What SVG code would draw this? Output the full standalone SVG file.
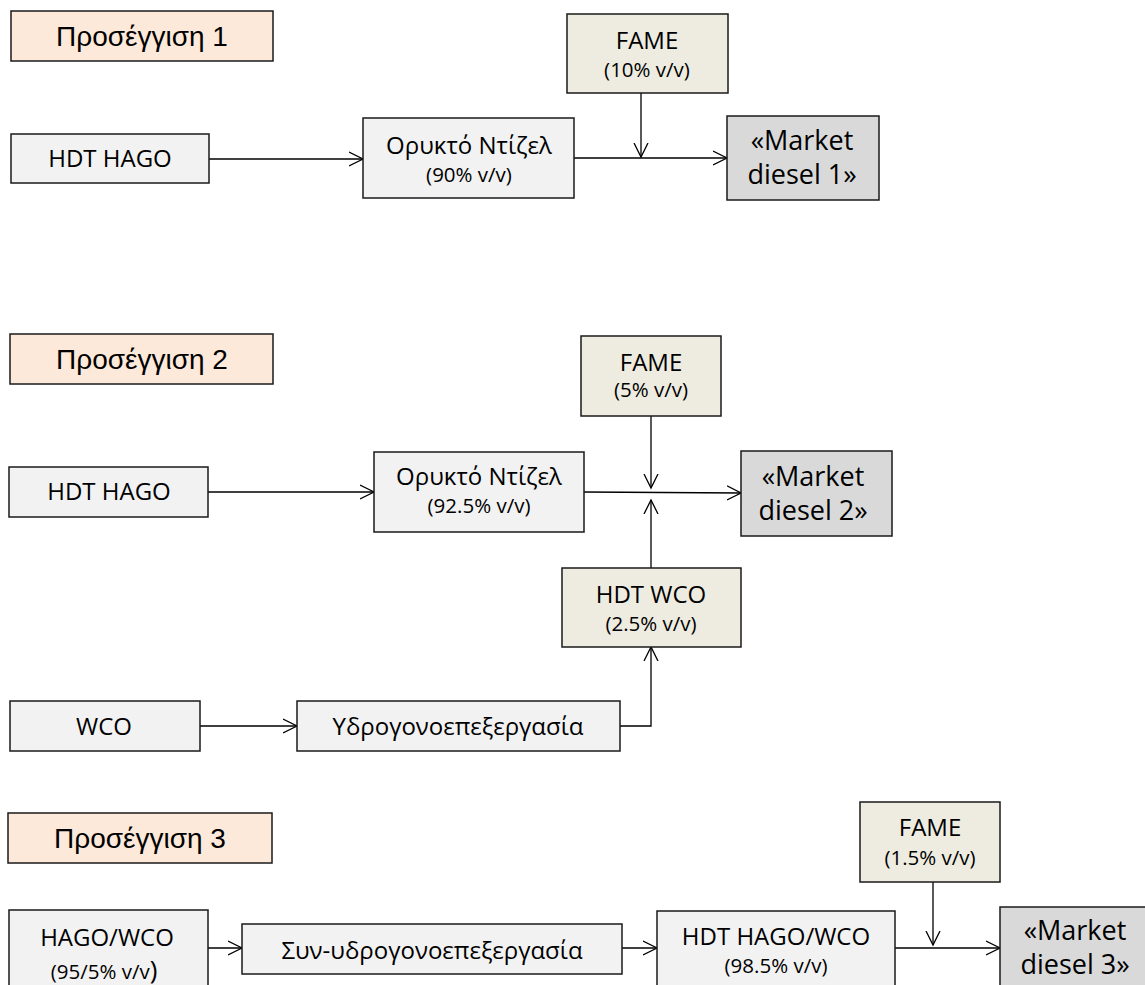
<svg xmlns="http://www.w3.org/2000/svg" width="1145" height="985" viewBox="0 0 1145 985">
<style>
  .box { stroke: #1a1a1a; stroke-width: 1.5; }
  .hdr { fill: #FDE9D9; }
  .lt { fill: #F2F2F2; }
  .be { fill: #EEECE1; }
  .mk { fill: #D9D9D9; }
  .ht { font-family: "Liberation Sans", Arial, sans-serif; font-size: 28px; fill: #000; text-anchor: middle; }
  .t { font-family: "Open Sans", "Noto Sans", sans-serif; font-size: 24px; fill: #000; text-anchor: middle; }
  .s { font-family: "Open Sans", "Noto Sans", sans-serif; font-size: 20.5px; fill: #000; text-anchor: middle; }
  .m { font-family: "Open Sans", "Noto Sans", sans-serif; font-size: 27px; fill: #000; text-anchor: middle; }
  .c { fill: none; stroke: #000; stroke-width: 1.3; }
</style>
<defs>
  <marker id="arr" markerUnits="userSpaceOnUse" markerWidth="16" markerHeight="16" refX="14" refY="7" orient="auto" viewBox="0 0 16 14">
    <path d="M0,0 L14,7 L0,14" fill="none" stroke="#000" stroke-width="1.3"/>
  </marker>
</defs>
<rect width="1145" height="985" fill="#fff"/>

<g id="connectors">
  <line class="c" x1="209" y1="159" x2="363" y2="159" marker-end="url(#arr)"/>
  <line class="c" x1="574" y1="158" x2="727" y2="158" marker-end="url(#arr)"/>
  <line class="c" x1="641" y1="93" x2="641" y2="157" marker-end="url(#arr)"/>

  <line class="c" x1="208" y1="492" x2="374" y2="492" marker-end="url(#arr)"/>
  <line class="c" x1="584" y1="492" x2="741" y2="493" marker-end="url(#arr)"/>
  <line class="c" x1="651" y1="416" x2="651" y2="488" marker-end="url(#arr)"/>
  <line class="c" x1="651" y1="568" x2="651" y2="500" marker-end="url(#arr)"/>
  <line class="c" x1="200" y1="726" x2="297" y2="726" marker-end="url(#arr)"/>
  <path class="c" d="M620,726 H651 V647" marker-end="url(#arr)"/>

  <line class="c" x1="208" y1="948" x2="242" y2="948" marker-end="url(#arr)"/>
  <line class="c" x1="622" y1="948" x2="657" y2="948" marker-end="url(#arr)"/>
  <line class="c" x1="895" y1="948" x2="1000" y2="948" marker-end="url(#arr)"/>
  <line class="c" x1="933" y1="882" x2="933" y2="945" marker-end="url(#arr)"/>
</g>

<g id="header1"><rect class="box hdr" x="11" y="11" width="262" height="50"/><text class="ht" x="142" y="46">Προσέγγιση 1</text></g>
<g id="hago1"><rect class="box lt" x="11" y="134" width="198" height="49"/><text class="t" x="110" y="167">HDT HAGO</text></g>
<g id="diesel1"><rect class="box lt" x="363" y="118" width="211" height="80"/><text class="t" x="469" y="154">Ορυκτό Ντίζελ</text><text class="s" x="469" y="182">(90% v/v)</text></g>
<g id="fame1"><rect class="box be" x="567" y="14" width="161" height="79"/><text class="t" x="647" y="49">FAME</text><text class="s" x="647" y="77">(10% v/v)</text></g>
<g id="market1"><rect class="box mk" x="727" y="116" width="152" height="84"/><text class="m" x="802" y="150">«Market</text><text class="m" x="802" y="184">diesel 1»</text></g>

<g id="header2"><rect class="box hdr" x="10" y="334" width="263" height="50"/><text class="ht" x="142" y="369">Προσέγγιση 2</text></g>
<g id="hago2"><rect class="box lt" x="9" y="467" width="199" height="50"/><text class="t" x="109" y="500">HDT HAGO</text></g>
<g id="diesel2"><rect class="box lt" x="374" y="452" width="210" height="80"/><text class="t" x="479" y="485">Ορυκτό Ντίζελ</text><text class="s" x="479" y="513">(92.5% v/v)</text></g>
<g id="fame2"><rect class="box be" x="581" y="336" width="140" height="80"/><text class="t" x="651" y="371">FAME</text><text class="s" x="651" y="397">(5% v/v)</text></g>
<g id="market2"><rect class="box mk" x="741" y="451" width="151" height="85"/><text class="m" x="813" y="486">«Market</text><text class="m" x="813" y="520">diesel 2»</text></g>
<g id="hdtwco"><rect class="box be" x="562" y="568" width="179" height="79"/><text class="t" x="651" y="603">HDT WCO</text><text class="s" x="651" y="631">(2.5% v/v)</text></g>
<g id="wco"><rect class="box lt" x="10" y="701" width="190" height="50"/><text class="t" x="104" y="735">WCO</text></g>
<g id="hdt"><rect class="box lt" x="297" y="701" width="323" height="50"/><text class="t" x="458" y="735">Υδρογονοεπεξεργασία</text></g>

<g id="header3"><rect class="box hdr" x="8" y="813" width="264" height="50"/><text class="ht" x="140" y="848">Προσέγγιση 3</text></g>
<g id="hagowco"><rect class="box lt" x="9" y="910" width="199" height="85"/><text class="t" x="107" y="946">HAGO/WCO</text><text class="s" x="104" y="979">(95/5% v/v<tspan font-size="26px">)</tspan></text></g>
<g id="cohdt"><rect class="box lt" x="242" y="924" width="380" height="50"/><text class="t" x="432" y="959">Συν-υδρογονοεπεξεργασία</text></g>
<g id="hdthagowco"><rect class="box lt" x="657" y="911" width="238" height="85"/><text class="t" x="776" y="945">HDT HAGO/WCO</text><text class="s" x="776" y="973">(98.5% v/v)</text></g>
<g id="fame3"><rect class="box be" x="860" y="802" width="140" height="80"/><text class="t" x="930" y="836">FAME</text><text class="s" x="930" y="865">(1.5% v/v)</text></g>
<g id="market3"><rect class="box mk" x="1000" y="907" width="152" height="90"/><text class="m" x="1075" y="940">«Market</text><text class="m" x="1075" y="974">diesel 3»</text></g>
</svg>
